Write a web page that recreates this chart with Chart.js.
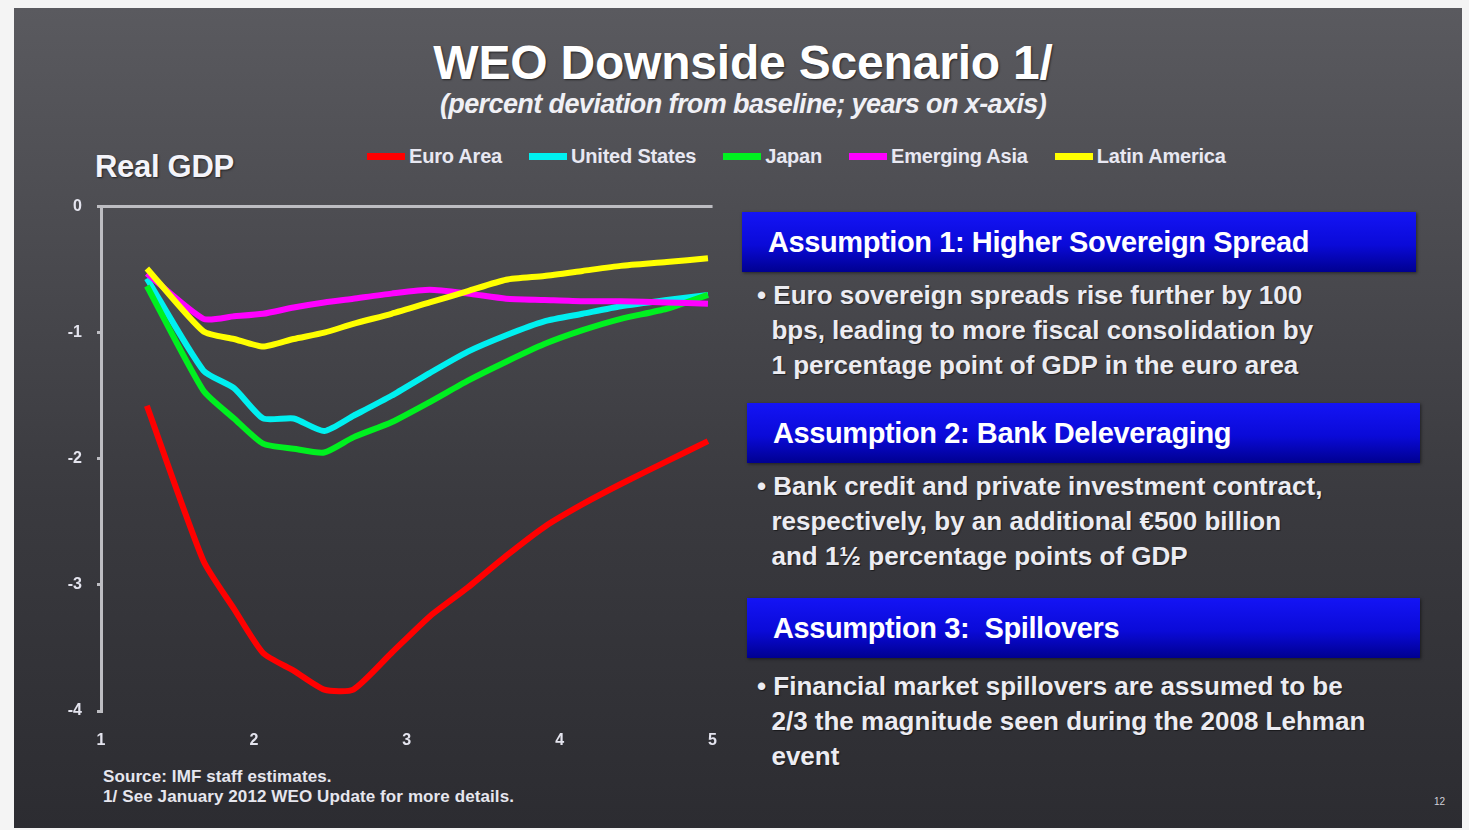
<!DOCTYPE html>
<html>
<head>
<meta charset="utf-8">
<script src="https://cdn.jsdelivr.net/npm/chart.js@4.4.1/dist/chart.umd.min.js"></script>
<style>
  html, body { margin: 0; padding: 0; background: #f4f4f4; }
  body { width: 1469px; height: 830px; position: relative; overflow: hidden; font-family: "Liberation Sans", Arial, sans-serif; }
  .slide {
    position: absolute; left: 14px; top: 8px; width: 1448px; height: 820px;
    background: linear-gradient(180deg, #5a5a5f 0%, #4a4a4f 30%, #3a3a3f 60%, #2c2c31 100%);
  }
  .title {
    position: absolute; left: 0; width: 1486px; top: 35px; text-align: center;
    color: #fff; font-weight: bold; font-size: 48px; letter-spacing: -0.2px;
    text-shadow: 1px 1px 2px rgba(0,0,0,0.6);
  }
  .subtitle {
    position: absolute; left: 0; width: 1486px; top: 89px; text-align: center;
    color: #f0f0f5; font-weight: bold; font-style: italic; font-size: 27px; letter-spacing: -0.6px;
  }
  .ylabel {
    position: absolute; left: 95px; top: 149px; color: #f4f4fa; font-weight: bold; font-size: 31px;
    letter-spacing: -0.3px; text-shadow: 1px 1px 2px rgba(0,0,0,0.6);
  }
  #legend {
    position: absolute; left: 367px; top: 145px; display: flex; align-items: center; gap: 27px;
  }
  .leg { display: flex; align-items: center; gap: 4px; color: #e8e8f2; font-weight: bold; font-size: 20px; letter-spacing: -0.2px; }
  .sw { width: 38px; height: 7px; }
  #wrap { position: absolute; left: 30px; top: 182px; width: 707px; height: 578px; }
  .hdr {
    position: absolute; height: 60px; color: #fff; font-weight: bold; font-size: 29px; letter-spacing: -0.4px;
    background: linear-gradient(180deg, #1414f5 0%, #0a0ad8 55%, #000090 100%);
    box-sizing: border-box; padding-left: 26px; line-height: 60px;
    box-shadow: 1px 1px 3px rgba(0,0,0,0.5);
  }
  .body {
    position: absolute; color: #ececf2; font-weight: bold; font-size: 26px; letter-spacing: 0px; line-height: 35px;
    text-shadow: 1px 1px 1px rgba(0,0,0,0.5);
  }
  .body div { white-space: nowrap; }
  .note { position: absolute; left: 103px; top: 767px; color: #e6e6ee; font-weight: bold; font-size: 17px; line-height: 20px; letter-spacing: 0.1px; }
  .page { position: absolute; left: 1434px; top: 796px; color: #d0d0d8; font-size: 10px; }
</style>
</head>
<body>
<div class="slide"></div>
<div class="title">WEO Downside Scenario 1/</div>
<div class="subtitle">(percent deviation from baseline; years on x-axis)</div>
<div class="ylabel">Real GDP</div>
<div id="legend"></div>
<div id="wrap"><canvas id="chart"></canvas></div>

<div class="hdr" style="left:742px; top:212px; width:674px;">Assumption 1: Higher Sovereign Spread</div>
<div class="body" style="left:757px; top:278px;">
  <div>• Euro sovereign spreads rise further by 100</div>
  <div>&nbsp;&nbsp;bps, leading to more fiscal consolidation by</div>
  <div>&nbsp;&nbsp;1 percentage point of GDP in the euro area</div>
</div>
<div class="hdr" style="left:747px; top:403px; width:673px;">Assumption 2: Bank Deleveraging</div>
<div class="body" style="left:757px; top:469px;">
  <div>• Bank credit and private investment contract,</div>
  <div>&nbsp;&nbsp;respectively, by an additional €500 billion</div>
  <div>&nbsp;&nbsp;and 1½ percentage points of GDP</div>
</div>
<div class="hdr" style="left:747px; top:598px; width:673px;">Assumption 3:&nbsp; Spillovers</div>
<div class="body" style="left:757px; top:669px;">
  <div>• Financial market spillovers are assumed to be</div>
  <div>&nbsp;&nbsp;2/3 the magnitude seen during the 2008 Lehman</div>
  <div>&nbsp;&nbsp;event</div>
</div>

<div class="note">Source: IMF staff estimates.<br>1/ See January 2012 WEO Update for more details.</div>
<div class="page">12</div>

<script>
// Data (x = years)
const years = [1.3, 1.67, 1.87, 2.06, 2.26, 2.46, 2.65, 2.9, 3.15, 3.4, 3.65, 3.9, 4.15, 4.4, 4.7, 4.97];
const euroArea = [-1.58, -2.81, -3.19, -3.54, -3.68, -3.83, -3.83, -3.54, -3.25, -3.02, -2.77, -2.54, -2.36, -2.20, -2.02, -1.86];
const unitedStates = [-0.57, -1.30, -1.44, -1.68, -1.68, -1.78, -1.66, -1.50, -1.32, -1.15, -1.02, -0.91, -0.85, -0.79, -0.74, -0.70];
const japan = [-0.63, -1.46, -1.68, -1.88, -1.92, -1.95, -1.83, -1.71, -1.55, -1.38, -1.23, -1.09, -0.98, -0.89, -0.81, -0.70];
const emergingAsia = [-0.53, -0.89, -0.87, -0.85, -0.80, -0.76, -0.73, -0.69, -0.66, -0.69, -0.73, -0.74, -0.75, -0.75, -0.76, -0.77];
const latinAmerica = [-0.49, -0.99, -1.05, -1.11, -1.05, -1.00, -0.93, -0.85, -0.76, -0.67, -0.58, -0.55, -0.51, -0.47, -0.44, -0.41];
const seriesNames = ['Euro Area', 'United States', 'Japan', 'Emerging Asia', 'Latin America'];
const yTicks = [0, -1, -2, -3, -4];
const xTicks = [1, 2, 3, 4, 5];

const seriesValues = [euroArea, unitedStates, japan, emergingAsia, latinAmerica];
const colors = ['#ff0000', '#00f0f0', '#00f020', '#ff00ff', '#ffff00'];

// HTML legend built from the series
const legendEl = document.getElementById('legend');
seriesNames.forEach((name, i) => {
  const item = document.createElement('div');
  item.className = 'leg';
  item.innerHTML = '<span class="sw" style="background:' + colors[i] + '"></span><span>' + name + '</span>';
  legendEl.appendChild(item);
});

const datasets = seriesNames.map((name, i) => ({
  label: name,
  data: years.map((x, j) => ({ x: x, y: seriesValues[i][j] })),
  borderColor: colors[i],
  backgroundColor: colors[i],
  borderWidth: 6,
  pointRadius: 0,
  tension: 0.2,
  order: seriesNames.length - 1 - i
}));

const tickFont = { family: '"Liberation Sans", Arial, sans-serif', size: 16, weight: 'bold' };

new Chart(document.getElementById('chart'), {
  type: 'line',
  data: { datasets: datasets },
  options: {
    responsive: true,
    maintainAspectRatio: false,
    animation: false,
    layout: { padding: { top: 15, right: 11, left: 0, bottom: 0 } },
    plugins: { legend: { display: false }, tooltip: { enabled: false } },
    scales: {
      x: {
        type: 'linear', min: 1, max: 5,
        afterBuildTicks: s => { s.ticks = xTicks.map(v => ({ value: v })); },
        afterFit: s => { s.height = 49; },
        grid: { display: false, drawTicks: false },
        border: { display: false },
        ticks: { color: '#e4e4ee', font: tickFont, padding: 20 }
      },
      y: {
        min: -4, max: 0,
        afterBuildTicks: s => { s.ticks = yTicks.map(v => ({ value: v })); },
        afterFit: s => { s.width = 71; },
        grid: {
          color: c => (c.tick && c.tick.value === 0 ? '#bdbdc2' : 'rgba(0,0,0,0)'),
          lineWidth: 3,
          drawTicks: true,
          tickLength: 4,
          tickColor: '#bdbdc2'
        },
        border: { display: true, color: '#bdbdc2', width: 3 },
        ticks: { color: '#e4e4ee', font: tickFont, padding: 15 }
      }
    }
  }
});
</script>
</body>
</html>
